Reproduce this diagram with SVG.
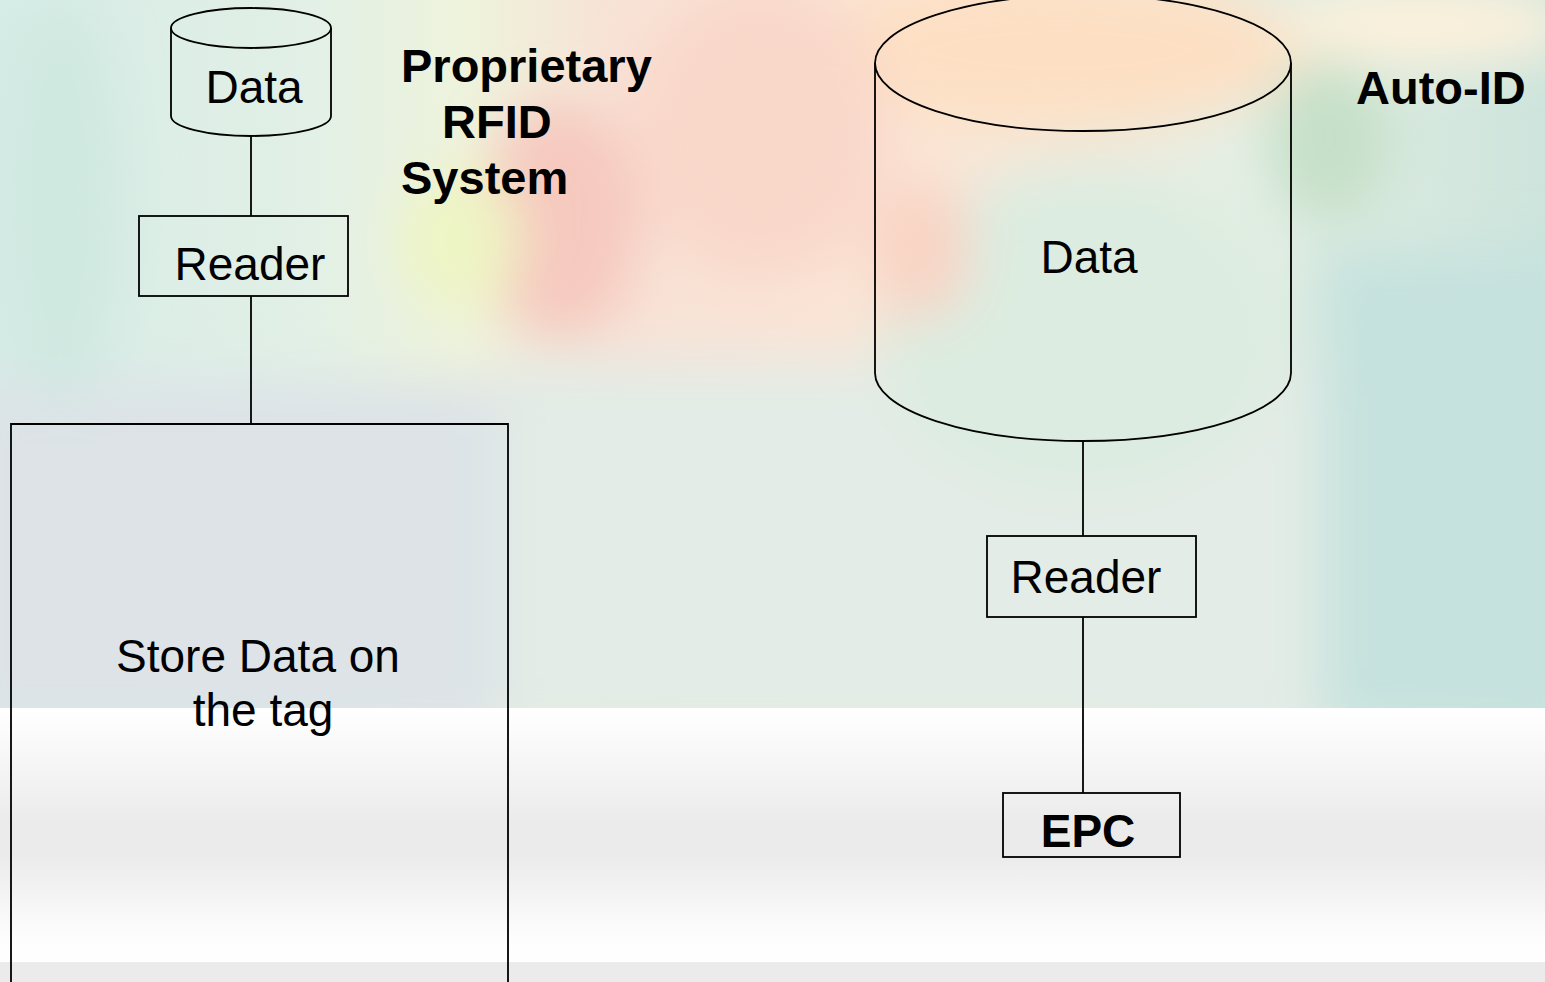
<svg xmlns="http://www.w3.org/2000/svg" width="1545" height="982" viewBox="0 0 1545 982">
<defs>
  <style>
    .shape{fill:none;stroke:#000;stroke-width:1.8}
    .conn{stroke:#000;stroke-width:1.8;fill:none}
    .lbl{font-family:"Liberation Sans",Arial,sans-serif;font-size:46px;fill:#000}
    .bold{font-weight:bold;font-size:47px}
  </style>
  <linearGradient id="base" x1="0" y1="0" x2="1" y2="0">
    <stop offset="0" stop-color="#d6ece6"/>
    <stop offset="0.2" stop-color="#e2f0e6"/>
    <stop offset="0.3" stop-color="#eef3dc"/>
    <stop offset="0.4" stop-color="#f8e2d6"/>
    <stop offset="0.6" stop-color="#fbe6d6"/>
    <stop offset="0.8" stop-color="#e4efe4"/>
    <stop offset="1" stop-color="#cde4dc"/>
  </linearGradient>
  <linearGradient id="band" x1="0" y1="0" x2="0" y2="1">
    <stop offset="0" stop-color="#ffffff"/>
    <stop offset="0.08" stop-color="#fcfcfc"/>
    <stop offset="0.45" stop-color="#ebebeb"/>
    <stop offset="0.58" stop-color="#ebebeb"/>
    <stop offset="0.9" stop-color="#fdfdfd"/>
    <stop offset="1" stop-color="#ffffff"/>
  </linearGradient>
  <filter id="blur" x="-20%" y="-20%" width="140%" height="140%">
    <feGaussianBlur stdDeviation="26"/>
  </filter>
  <clipPath id="photo"><rect x="0" y="0" width="1545" height="708"/></clipPath>
</defs>

<g id="background">
  <rect x="0" y="0" width="1545" height="708" fill="url(#base)"/>
  <g clip-path="url(#photo)" filter="url(#blur)">
    <rect x="-40" y="380" width="560" height="360" fill="#dde3e7"/>
    <rect x="500" y="360" width="820" height="380" fill="#e3ece6"/>
    <ellipse cx="560" cy="220" rx="80" ry="120" fill="#f6c9bf"/>
    <ellipse cx="460" cy="240" rx="60" ry="70" fill="#eef5c4"/>
    <ellipse cx="1060" cy="50" rx="240" ry="80" fill="#fde0c4"/>
    <ellipse cx="760" cy="130" rx="130" ry="150" fill="#f9d8ca"/>
    <ellipse cx="1430" cy="25" rx="150" ry="40" fill="#fdf1dc"/>
    <ellipse cx="1330" cy="140" rx="60" ry="80" fill="#c6e0c8"/>
    <rect x="1320" y="250" width="260" height="480" fill="#c6e2de"/>
    <ellipse cx="1080" cy="330" rx="200" ry="160" fill="#dcece0"/>
    <ellipse cx="60" cy="200" rx="60" ry="200" fill="#cfe8e0"/>
    <ellipse cx="920" cy="250" rx="50" ry="70" fill="#f9d4c4"/>
  </g>
  <rect x="0" y="708" width="1545" height="254" fill="url(#band)"/>
  <rect x="0" y="962" width="1545" height="20" fill="#ebebeb"/>
</g>

<g id="connectors">
  <line class="conn" x1="251" y1="136" x2="251" y2="216"/>
  <line class="conn" x1="251" y1="296" x2="251" y2="424"/>
  <line class="conn" x1="1083" y1="441" x2="1083" y2="536"/>
  <line class="conn" x1="1083" y1="617" x2="1083" y2="793"/>
</g>

<g id="node-data-small">
  <path class="shape" d="M171,28 L171,116 A80,20 0 0 0 331,116 L331,28"/>
  <ellipse class="shape" cx="251" cy="28" rx="80" ry="20"/>
  <text class="lbl" x="254" y="103" text-anchor="middle">Data</text>
</g>

<g id="node-reader-left">
  <rect class="shape" x="139" y="216" width="209" height="80"/>
  <text class="lbl" x="250" y="280" text-anchor="middle">Reader</text>
</g>

<g id="node-store">
  <path class="shape" d="M11,990 L11,424 L508,424 L508,990"/>
  <text class="lbl" x="258" y="672" text-anchor="middle">Store Data on</text>
  <text class="lbl" x="263" y="726" text-anchor="middle">the tag</text>
</g>

<g id="label-proprietary">
  <text class="lbl bold" x="401" y="82">Proprietary</text>
  <text class="lbl bold" x="442" y="138">RFID</text>
  <text class="lbl bold" x="401" y="194">System</text>
</g>

<g id="node-data-large">
  <path class="shape" d="M875,63 L875,373 A208,68 0 0 0 1291,373 L1291,63"/>
  <ellipse class="shape" cx="1083" cy="63" rx="208" ry="68"/>
  <text class="lbl" x="1089" y="273" text-anchor="middle">Data</text>
</g>

<g id="label-autoid">
  <text class="lbl bold" x="1356" y="104">Auto-ID</text>
</g>

<g id="node-reader-right">
  <rect class="shape" x="987" y="536" width="209" height="81"/>
  <text class="lbl" x="1086" y="593" text-anchor="middle">Reader</text>
</g>

<g id="node-epc">
  <rect class="shape" x="1003" y="793" width="177" height="64"/>
  <text class="lbl bold" x="1088" y="847" text-anchor="middle" style="font-size:46px">EPC</text>
</g>
</svg>
